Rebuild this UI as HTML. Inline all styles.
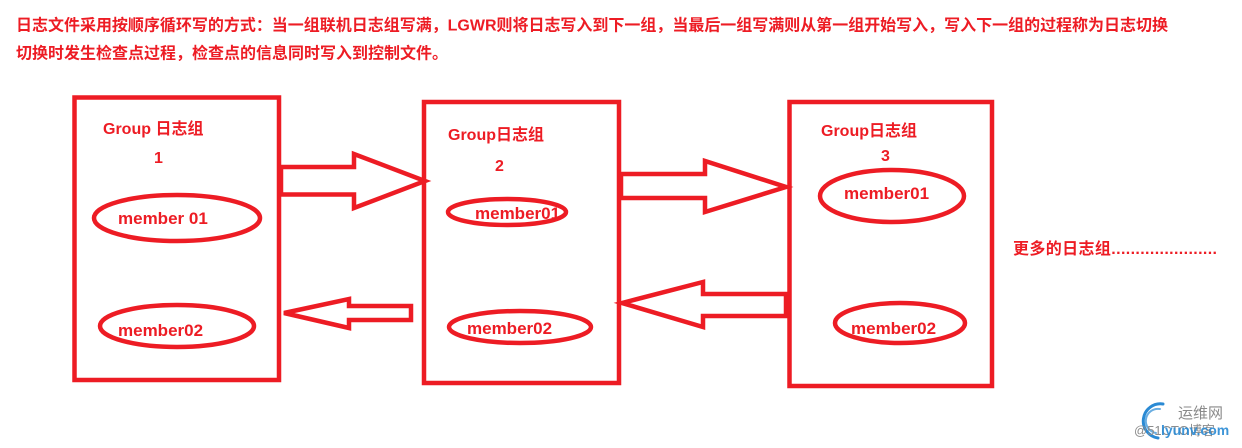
<!DOCTYPE html>
<html>
<head>
<meta charset="utf-8">
<style>
html,body{margin:0;padding:0;background:#fff;}
body{width:1242px;height:448px;overflow:hidden;}
svg{display:block;}
text{font-family:"Liberation Sans","Noto Sans CJK SC","WenQuanYi Zen Hei",sans-serif;font-weight:bold;fill:#ed1c24;}
</style>
</head>
<body>
<svg width="1242" height="448" viewBox="0 0 1242 448" xmlns="http://www.w3.org/2000/svg">
  <!-- header -->
  <text x="16" y="30.5" font-size="16" textLength="1152" lengthAdjust="spacing">日志文件采用按顺序循环写的方式：当一组联机日志组写满，LGWR则将日志写入到下一组，当最后一组写满则从第一组开始写入，写入下一组的过程称为日志切换</text>
  <text x="16" y="58.5" font-size="16">切换时发生检查点过程，检查点的信息同时写入到控制文件。</text>

  <g fill="none" stroke="#ed1c24" stroke-width="4.5" stroke-linejoin="miter">
    <!-- boxes -->
    <rect x="74.5" y="97.5" width="204.5" height="282.5"/>
    <rect x="424" y="102" width="195" height="281"/>
    <rect x="789.5" y="102" width="202.5" height="284"/>

    <!-- ellipses -->
    <ellipse cx="177" cy="218" rx="83" ry="23"/>
    <ellipse cx="177" cy="326" rx="77" ry="21"/>
    <ellipse cx="507" cy="212" rx="59" ry="13"/>
    <ellipse cx="520" cy="327" rx="71" ry="16"/>
    <ellipse cx="892" cy="196" rx="72" ry="26"/>
    <ellipse cx="900" cy="323" rx="65" ry="20"/>

    <!-- arrows -->
    <polygon points="281,167 354,167 354,154 425,181 354,208 354,194.5 281,194.5"/>
    <polygon points="284,313 349,299 349,306 411,306 411,320 349,320 349,328"/>
    <polygon points="621,174 705,174 705,161 786,187 705,212 705,198 621,198"/>
    <polygon points="622,303 703,282 703,294 786,294 786,316 703,316 703,327"/>
  </g>

  <!-- group labels -->
  <text x="103" y="134" font-size="16">Group 日志组</text>
  <text x="154" y="163" font-size="16">1</text>
  <text x="448" y="140" font-size="16">Group日志组</text>
  <text x="495" y="171" font-size="16">2</text>
  <text x="821" y="136" font-size="16">Group日志组</text>
  <text x="881" y="161" font-size="16">3</text>

  <!-- member labels -->
  <text x="118" y="224" font-size="17">member 01</text>
  <text x="118" y="336" font-size="17">member02</text>
  <text x="475" y="219" font-size="17">member01</text>
  <text x="467" y="334" font-size="17">member02</text>
  <text x="844" y="199" font-size="17">member01</text>
  <text x="851" y="334" font-size="17">member02</text>

  <!-- more groups -->
  <text x="1013" y="254" font-size="16" textLength="204" lengthAdjust="spacing">更多的日志组......................</text>

  <!-- watermark -->
  <g fill="none" stroke="#2a8ad4" stroke-linecap="round">
    <path d="M1163,404 A17,17 0 1 0 1158,438" stroke-width="3"/>
    <path d="M1160,409 A12,12 0 1 0 1156,433" stroke-width="2" opacity="0.7"/>
  </g>
  <text x="1178" y="418" font-size="15" style="fill:#8a8a8a;font-weight:normal">运维网</text>
  <text x="1134" y="435" font-size="13" style="fill:#8c8c8c;font-weight:normal">@51CTO博客</text>
  <text x="1161" y="435" font-size="14" style="fill:#2a8ad4;font-weight:bold;opacity:0.9">lyunv.com</text>
</svg>
</body>
</html>
